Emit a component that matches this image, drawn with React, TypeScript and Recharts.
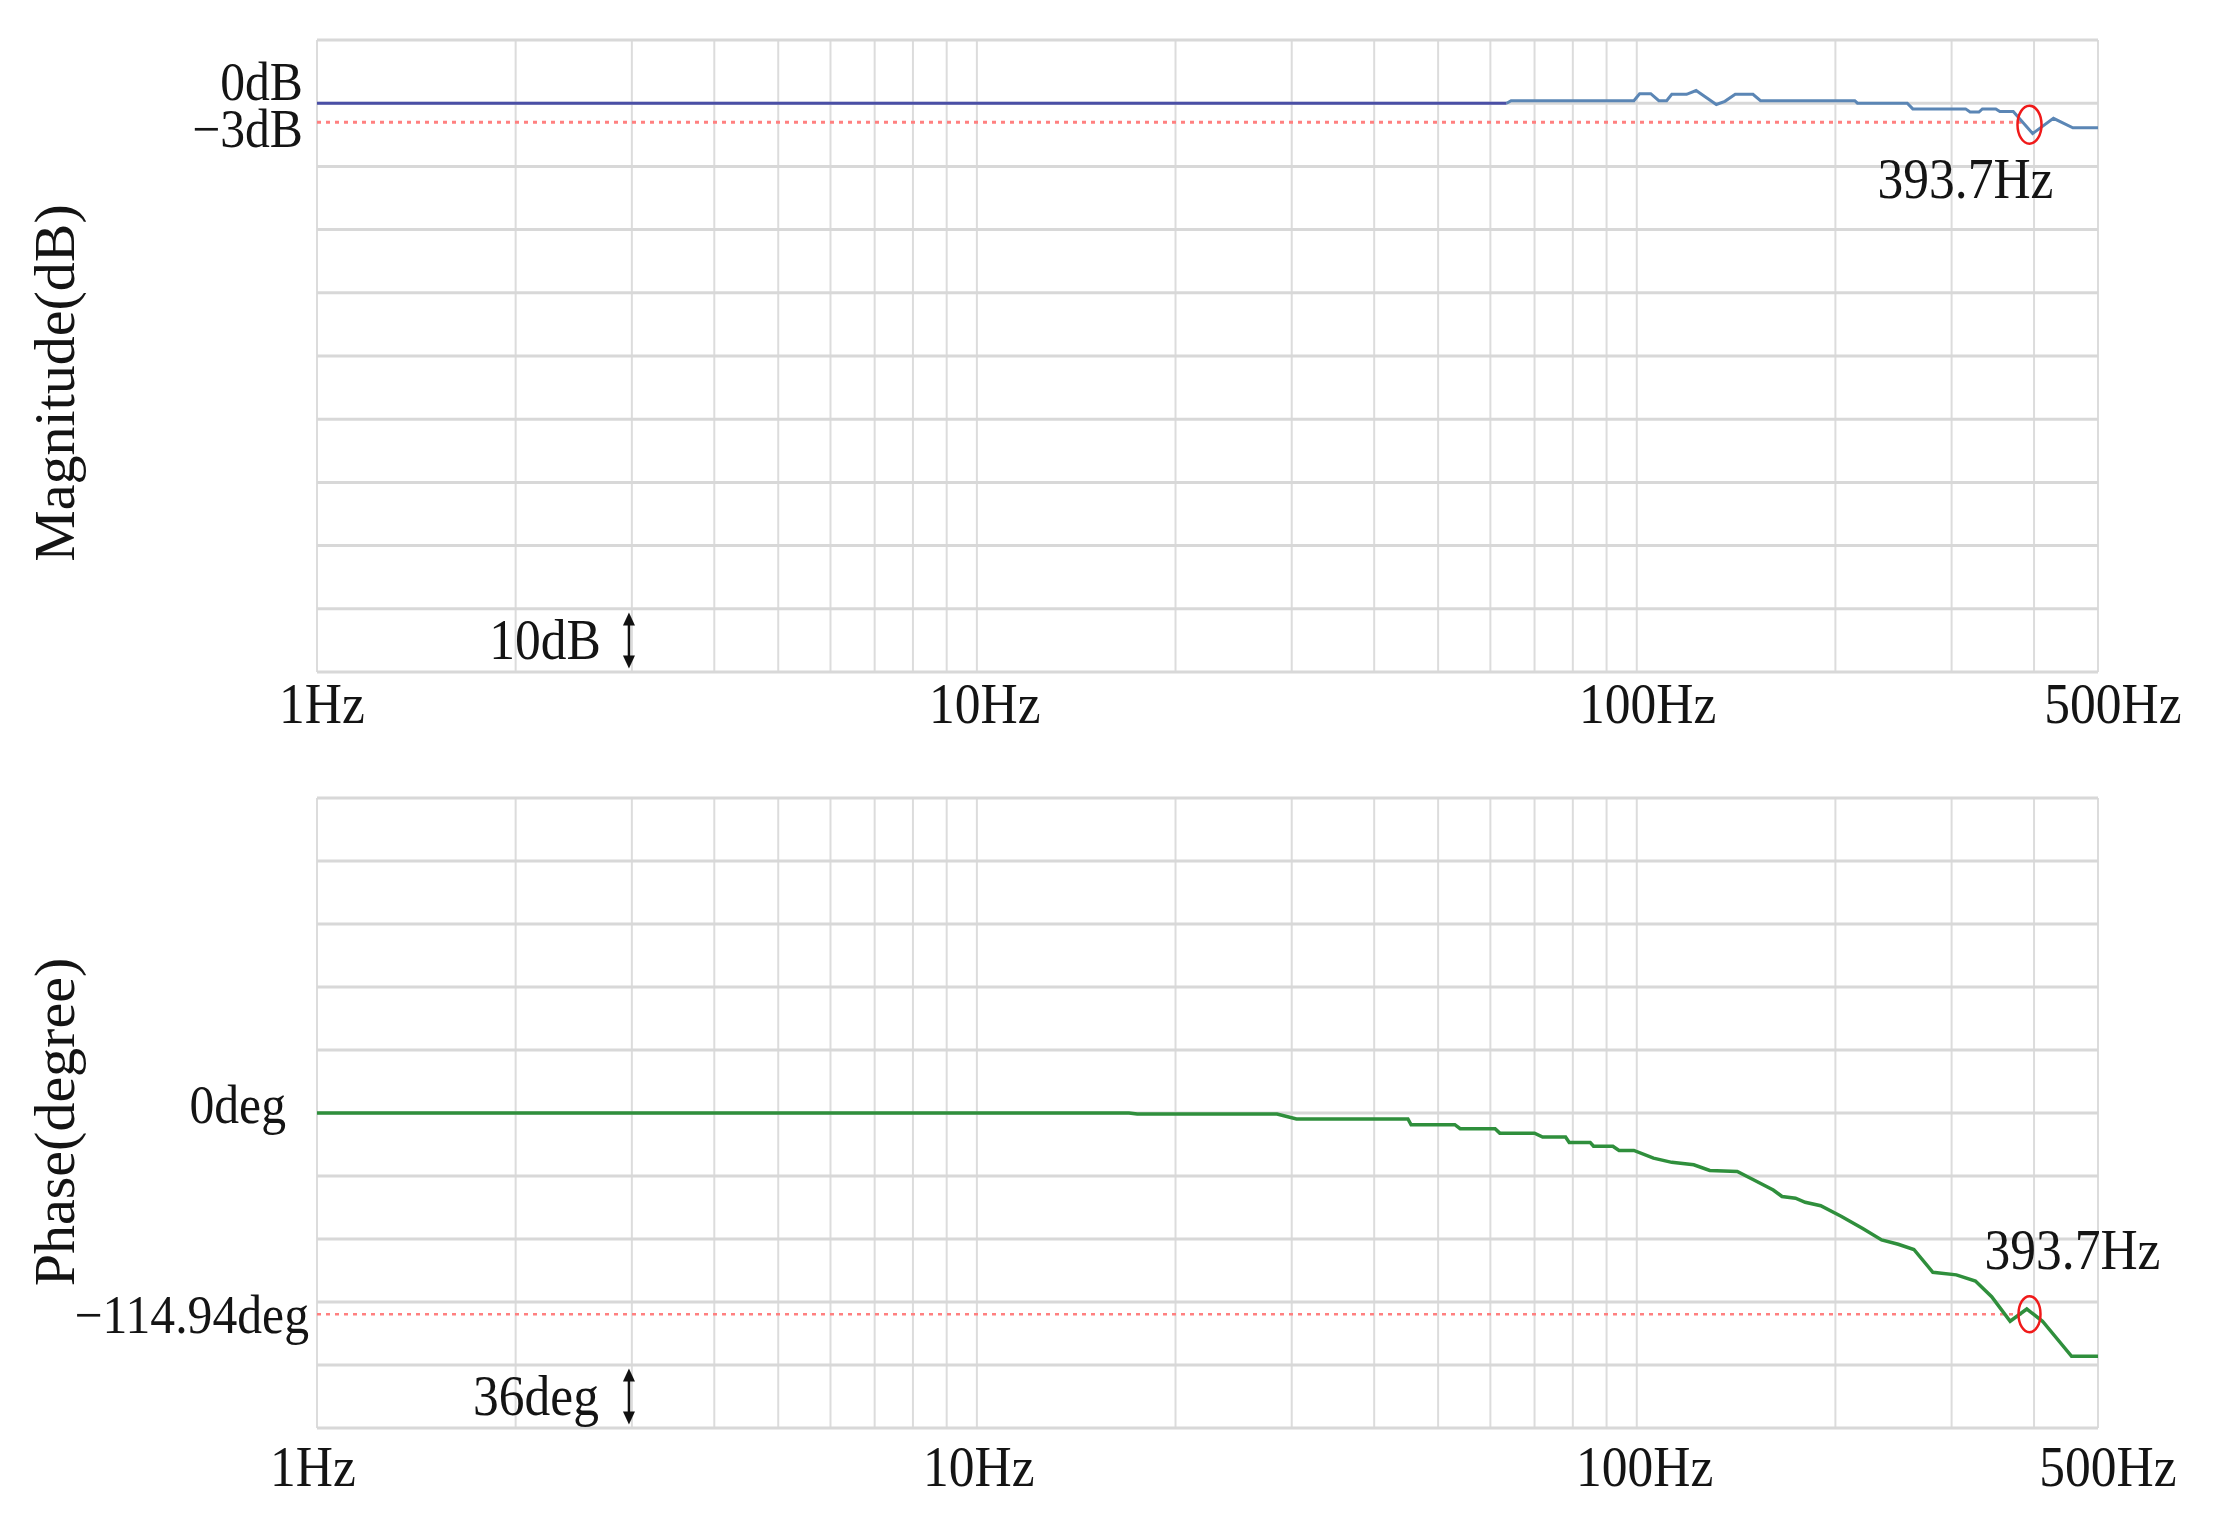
import React from "react";
import {
  LineChart,
  Line,
  XAxis,
  YAxis,
  CartesianGrid,
  ReferenceLine,
  ReferenceDot,
  Label,
} from "recharts";

const FONT = '"Liberation Serif", "Times New Roman", serif';

// frequency axis (log)
const freqTicks = [1, 10, 100, 500];
const gridFreqs = [1, 2, 3, 4, 5, 6, 7, 8, 9, 10, 20, 30, 40, 50, 60, 70, 80, 90, 100, 200, 300, 400, 500];

// magnitude panel
const magGrid = [10, 0, -10, -20, -30, -40, -50, -60, -70, -80, -90];
const magTicks = [0, -3];
const magFreqLow = [1, 63.5];
const magDbLow = [0, 0];
const magFreqHigh = [
  63.5, 64.5, 99, 101, 105, 108, 111, 113, 119, 123, 132, 136, 141, 150, 154, 214, 216, 257,
  262, 315, 320, 330, 334, 350, 355, 372, 398, 428, 458, 500,
];
const magDbHigh = [
  0, 0.4, 0.4, 1.5, 1.5, 0.4, 0.4, 1.4, 1.4, 2.0, -0.2, 0.3, 1.4, 1.4, 0.4, 0.4, 0, 0,
  -0.9, -0.9, -1.4, -1.4, -0.9, -0.9, -1.3, -1.3, -4.8, -2.4, -3.9, -3.9,
];

// phase panel
const phaseGrid = [180, 144, 108, 72, 36, 0, -36, -72, -108, -144, -180];
const phaseTicks = [0, -114.94];
const phaseFreq = [
  1, 17, 17.5, 28.5, 30.5, 45, 45.5, 53, 54, 61, 62, 70, 72, 78, 79, 85, 86, 92, 94, 99,
  106, 113, 122, 129, 142, 150, 161, 166, 174, 180, 190, 204, 220, 235, 249, 263, 281, 305,
  326, 345, 368, 390, 412, 456, 500,
];
const phaseDeg = [
  0, 0, -0.6, -0.6, -3.4, -3.4, -6.7, -6.7, -9, -9, -11.5, -11.5, -13.7, -13.7, -16.8, -16.8, -19, -19, -21.4, -21.4,
  -25.8, -28.2, -29.6, -32.8, -33.4, -38, -44, -47.7, -48.7, -51, -53, -59, -66, -72.5, -75, -78, -91, -92.5,
  -96, -105, -119, -112, -119, -139, -139,
];

const cutoffHz = 393.7;
const magCut = -3.4;
const phaseCut = -114.94;

const magLow = magFreqLow.map((f, i) => ({ f, v: magDbLow[i] }));
const magHigh = magFreqHigh.map((f, i) => ({ f, v: magDbHigh[i] }));
const phaseData = phaseFreq.map((f, i) => ({ f, v: phaseDeg[i] }));

const minus = (v: number) => (v < 0 ? "\u2212" : "") + Math.abs(v);

const SquishText = ({ x, y, anchor = "middle", size = 56, children }: any) => (
  <g transform={`translate(${x},${y}) scale(0.92,1)`}>
    <text x={0} y={0} textAnchor={anchor} dominantBaseline="central" fontFamily={FONT} fontSize={size} fill="#141414">
      {children}
    </text>
  </g>
);

const freqTick = (dy: number, nudge: Record<string, number>) => (props: any) => {
  const { x, y, payload } = props;
  return (
    <SquishText x={x + (nudge[String(payload.value)] ?? 0)} y={y + dy}>
      {`${payload.value}Hz`}
    </SquishText>
  );
};

const valueTick = (unit: string, dx: Record<string, number>, dy: Record<string, number>) => (props: any) => {
  const { x, y, payload } = props;
  const k = String(payload.value);
  return (
    <SquishText x={x + (dx[k] ?? 0)} y={y + (dy[k] ?? 0)} anchor="end" size={54}>
      {minus(payload.value) + unit}
    </SquishText>
  );
};

const axisTitle = (text: string, dy: number) => (props: any) => {
  const vb = props.viewBox || { y: 0, height: 0 };
  const cy = vb.y + vb.height / 2 + dy;
  return (
    <text
      transform={`translate(54,${cy}) rotate(-90)`}
      textAnchor="middle"
      dominantBaseline="central"
      fontFamily={FONT}
      fontSize={58}
      fill="#141414"
    >
      {text}
    </text>
  );
};

const cutoffMarker = (rx: number, ry: number, dx: number, dy: number) => (props: any) => {
  const { cx, cy } = props;
  return (
    <g>
      <ellipse cx={cx} cy={cy} rx={rx} ry={ry} fill="none" stroke="#f01a1a" strokeWidth={2.5} />
      <SquishText x={cx + dx} y={cy + dy}>{`${cutoffHz}Hz`}</SquishText>
    </g>
  );
};

const scaleArrow = (text: string, dx: number) => (props: any) => {
  const { cx, cy } = props;
  return (
    <g>
      <line x1={cx} x2={cx} y1={cy - 18} y2={cy + 18} stroke="#111" strokeWidth={2.5} />
      <polygon points={`${cx},${cy - 28} ${cx - 6},${cy - 15} ${cx + 6},${cy - 15}`} fill="#111" />
      <polygon points={`${cx},${cy + 28} ${cx - 6},${cy + 15} ${cx + 6},${cy + 15}`} fill="#111" />
      <SquishText x={cx + dx} y={cy}>{text}</SquishText>
    </g>
  );
};

const App = () => {
  return (
    <div style={{ position: "absolute", left: 0, top: 0, width: 2222, height: 1519, background: "#fff" }}>
      {/* magnitude */}
      <div style={{ position: "absolute", left: 0, top: 0 }}>
        <LineChart width={2222} height={760} margin={{ top: 40, right: 124, bottom: 48, left: 0 }}>
          <CartesianGrid horizontal={false} verticalValues={gridFreqs} stroke="#dcdcdc" strokeWidth={2} />
          <CartesianGrid vertical={false} horizontalValues={magGrid} stroke="#d8d8d8" strokeWidth={3} />
          <XAxis
            dataKey="f"
            type="number"
            scale="log"
            domain={[1, 500]}
            ticks={freqTicks}
            interval={0}
            allowDataOverflow
            axisLine={false}
            tickLine={false}
            tickSize={0}
            tickMargin={0}
            height={40}
            tick={freqTick(32, { "1": 5, "10": 8, "100": 11, "500": 15 })}
          />
          <YAxis
            type="number"
            domain={[-90, 10]}
            ticks={magTicks}
            interval={0}
            allowDataOverflow
            width={317}
            axisLine={false}
            tickLine={false}
            tickSize={0}
            tickMargin={0}
            tick={valueTick("dB", { "0": -14, "-3": -14 }, { "0": -21, "-3": 7 })}
          >
            <Label content={axisTitle("Magnitude(dB)", 27)} />
          </YAxis>
          <ReferenceLine
            segment={[{ x: 1, y: -3 }, { x: 383, y: -3 }]}
            stroke="#ff8080"
            strokeWidth={3}
            strokeDasharray="4 5"
          />
          <Line data={magLow} dataKey="v" type="linear" stroke="#4a4fa6" strokeWidth={3} dot={false} isAnimationActive={false} />
          <Line data={magHigh} dataKey="v" type="linear" stroke="#5b86b5" strokeWidth={3} dot={false} isAnimationActive={false} />
          <ReferenceDot x={cutoffHz} y={magCut} shape={cutoffMarker(12, 19, -64, 55)} />
          <ReferenceDot x={2.97} y={-85} shape={scaleArrow("10dB", -84)} />
        </LineChart>
      </div>

      {/* phase */}
      <div style={{ position: "absolute", left: 0, top: 760 }}>
        <LineChart width={2222} height={759} margin={{ top: 38, right: 124, bottom: 51, left: 0 }}>
          <CartesianGrid horizontal={false} verticalValues={gridFreqs} stroke="#dcdcdc" strokeWidth={2} />
          <CartesianGrid vertical={false} horizontalValues={phaseGrid} stroke="#d8d8d8" strokeWidth={3} />
          <XAxis
            dataKey="f"
            type="number"
            scale="log"
            domain={[1, 500]}
            ticks={freqTicks}
            interval={0}
            allowDataOverflow
            axisLine={false}
            tickLine={false}
            tickSize={0}
            tickMargin={0}
            height={40}
            tick={freqTick(39, { "1": -4, "10": 2, "100": 8, "500": 10 })}
          />
          <YAxis
            type="number"
            domain={[-180, 180]}
            ticks={phaseTicks}
            interval={0}
            allowDataOverflow
            width={317}
            axisLine={false}
            tickLine={false}
            tickSize={0}
            tickMargin={0}
            tick={valueTick("deg", { "0": -31, "-114.94": -8 }, { "0": -8, "-114.94": 1 })}
          >
            <Label content={axisTitle("Phase(degree)", 9)} />
          </YAxis>
          <ReferenceLine
            segment={[{ x: 1, y: phaseCut }, { x: 383, y: phaseCut }]}
            stroke="#ff8080"
            strokeWidth={2.5}
            strokeDasharray="4 5"
          />
          <Line data={phaseData} dataKey="v" type="linear" stroke="#2f8f3c" strokeWidth={3.5} dot={false} isAnimationActive={false} />
          <ReferenceDot x={cutoffHz} y={phaseCut} shape={cutoffMarker(11, 18, 43, -64)} />
          <ReferenceDot x={2.97} y={-162} shape={scaleArrow("36deg", -93)} />
        </LineChart>
      </div>
    </div>
  );
};

export default App;
